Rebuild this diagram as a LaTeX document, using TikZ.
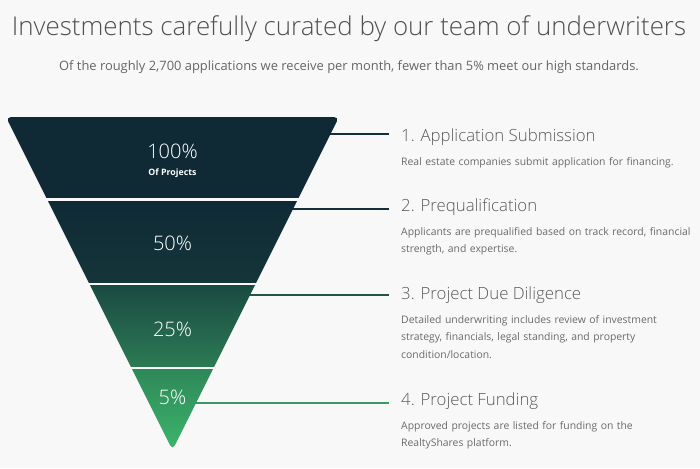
\documentclass[tikz,border=0pt]{standalone}
\usepackage{fontspec}
\setmainfont{Open Sans}
\IfFontExistsTF{Open Sans Light}{\newfontfamily\lightfont{Open Sans Light}}{\let\lightfont\relax}
\definecolor{bg}{HTML}{F8F8F8}
\definecolor{titlegray}{HTML}{505050}
\definecolor{subgray}{HTML}{666666}
\definecolor{headgray}{HTML}{5A5A5A}
\definecolor{descgray}{HTML}{6A6A6A}
\definecolor{cA}{HTML}{0F2A35}
\definecolor{cB}{HTML}{153539}
\definecolor{cC}{HTML}{1A4A42}
\definecolor{cD}{HTML}{2C7A54}
\definecolor{cE}{HTML}{2E8858}
\definecolor{cF}{HTML}{3DB66D}
\definecolor{lA}{HTML}{12303A}
\definecolor{lC}{HTML}{1F5646}
\definecolor{lD}{HTML}{3A9A62}
\tikzset{
  titletext/.style={inner sep=0pt, text=titlegray, font=\lightfont\fontsize{25.9}{30}\selectfont},
  subtext/.style={inner sep=0pt, text=subgray, font=\fontsize{12.9}{15}\selectfont},
  headtext/.style={inner sep=0pt, anchor=base west, text=headgray, font=\lightfont\fontsize{16.8}{20}\selectfont},
  desctext/.style={inner sep=0pt, anchor=base west, text=descgray, text width=300pt, align=left, font=\fontsize{10.4}{17.5}\selectfont},
  pcttext/.style={inner sep=0pt, anchor=base, text=white, font=\lightfont\fontsize{20}{23}\selectfont},
  smalltext/.style={inner sep=0pt, anchor=base, text=white, font=\bfseries\fontsize{8.8}{11}\selectfont},
  conn/.style={line width=1.5pt},
}
\begin{document}
\begin{tikzpicture}[x=1pt,y=-1pt]
\fill[bg] (0,0) rectangle (700,468);
\useasboundingbox (0,0) rectangle (700,468);

% title
\node[titletext, anchor=base] (title) at (349,35.5) {Investments carefully curated by our team of underwriters};
\node[subtext, anchor=base] (sub) at (349,70.7) {Of the roughly 2,700 applications we receive per month, fewer than 5\% meet our high standards.};

% headings and descriptions
\node[headtext] (h1) at (401,141) {1. Application Submission};
\node[desctext] (d1) at (401,165) {Real estate companies submit application for financing.};
\node[headtext] (h2) at (401,211) {2. Prequalification};
\node[desctext] (d2) at (401,235) {Applicants are prequalified based on track record, financial\\strength, and expertise.};
\node[headtext] (h3) at (401,299) {3. Project Due Diligence};
\node[desctext] (d3) at (401,323) {Detailed underwriting includes review of investment\\strategy, financials, legal standing, and property\\condition/location.};
\node[headtext] (h4) at (401,405) {4. Project Funding};
\node[desctext] (d4) at (401,429) {Approved projects are listed for funding on the\\RealtyShares platform.};

% connector start points at funnel edge
\coordinate (e1) at (326,134);
\coordinate (e2) at (290,209);
\coordinate (e3) at (246,295);
\coordinate (e4) at (193,403);
\coordinate (t1) at (389,134);
\coordinate (t2) at (389,209);
\coordinate (t3) at (389,295);
\coordinate (t4) at (389,403);
\draw[conn, lA] (e1) -- (t1);
\draw[conn, lA] (e2) -- (t2);
\draw[conn, lC] (e3) -- (t3);
\draw[conn, lD] (e4) -- (t4);

% funnel
\begin{scope}
\clip[rounded corners=5pt] (6,117) -- (339,117) -- (172.5,450) -- cycle;
\fill[cA] (0,110) rectangle (345,198);
\shade[top color=cA, bottom color=cB] (0,201) rectangle (345,282);
\shade[top color=cC, bottom color=cD] (0,285) rectangle (345,366);
\shade[top color=cE, bottom color=cF] (0,369) rectangle (345,452);
\end{scope}

\node[pcttext] (p1) at (172.5,158) {100\%};
\node[smalltext] (p1s) at (172.5,175) {Of Projects};
\node[pcttext] (p2) at (172.5,250) {50\%};
\node[pcttext] (p3) at (172.5,336) {25\%};
\node[pcttext] (p4) at (172.5,404) {5\%};
\end{tikzpicture}
\end{document}
